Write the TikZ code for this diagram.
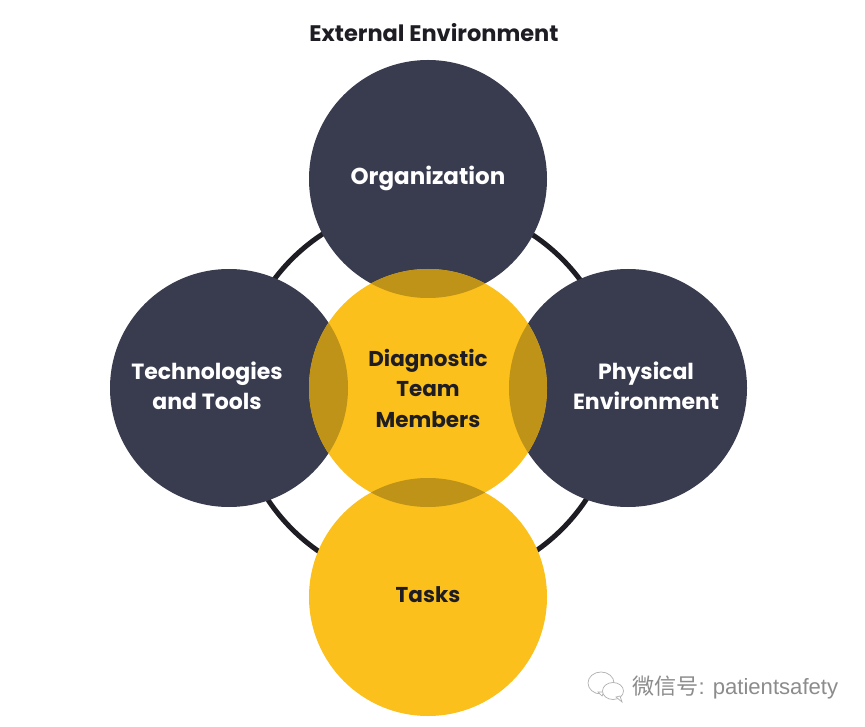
\documentclass[tikz,border=0pt]{standalone}
\usepackage{fontspec}
\setmainfont{Poppins}
\newfontfamily\cjk{Noto Sans CJK SC}
\newfontfamily\wm{Liberation Sans}
\definecolor{navy}{HTML}{393B4F}
\definecolor{gold}{HTML}{FBC01B}
\definecolor{dgold}{HTML}{BF9218}
\definecolor{ink}{HTML}{1F1D24}
\definecolor{wmgray}{HTML}{8C8C8C}
\tikzset{
  disc/.style={circle,inner sep=0pt,minimum size=238pt},
  darkdisc/.style={disc,fill=navy},
  golddisc/.style={disc,fill=gold},
  lightlabel/.style={text=white,font=\fontsize{22}{30.5}\selectfont\bfseries,align=center,inner sep=0pt},
  darklabel/.style={text=ink,font=\fontsize{21.5}{30.5}\selectfont\bfseries,align=center,inner sep=0pt},
  bubble/.style={draw=wmgray!70,line width=0.7pt,fill=white}
}
\begin{document}
\begin{tikzpicture}[x=1pt,y=-1pt]
\useasboundingbox (0,0) rectangle (865,727);
\fill[white] (0,0) rectangle (865,727);
% ring behind the discs
\node[circle,draw=ink,line width=5pt,inner sep=0pt,minimum size=382pt] (ring) at (427,394) {};
\node[darkdisc] (org) at (428,179) {};
\node[darkdisc] (tech) at (229,388) {};
\node[darkdisc] (phys) at (628,388) {};
\node[golddisc] (team) at (428,388) {};
\node[golddisc] (tasks) at (428,597) {};
% overlaps
\begin{scope}
\clip (428,388) circle (119);
\fill[dgold] (428,179) circle (119);
\fill[dgold] (229,388) circle (119);
\fill[dgold] (628,388) circle (119);
\fill[dgold] (428,597) circle (119);
\end{scope}
% labels
\node[text=ink,font=\fontsize{22.5}{26}\selectfont\bfseries,inner sep=0pt] (ext) at (434,33) {External Environment};
\node[lightlabel,font=\fontsize{23}{30.5}\selectfont\bfseries] (orgt) at (428,178) {Organization};
\node[lightlabel] (techt) at (207,386) {Technologies\\and Tools};
\node[lightlabel] (phyt) at (646,386) {Physical\\Environment};
\node[darklabel] (teamt) at (428,388) {Diagnostic\\Team\\Members};
\node[darklabel] (taskt) at (428,595) {Tasks};
% watermark
\path[bubble] (601,683) ellipse (13 and 11);
\path[bubble] (598,692) -- (602,696) -- (604,692) -- cycle;
\path[bubble] (613,691) ellipse (10.5 and 8.5);
\path[bubble] (616,697) -- (622,702) -- (620,696) -- cycle;
\node[text=wmgray,inner sep=0pt,anchor=west] (wmt) at (632,688) {\fontsize{22.1}{24}\selectfont{\cjk 微信号}\wm: patientsafety};
\end{tikzpicture}
\end{document}
